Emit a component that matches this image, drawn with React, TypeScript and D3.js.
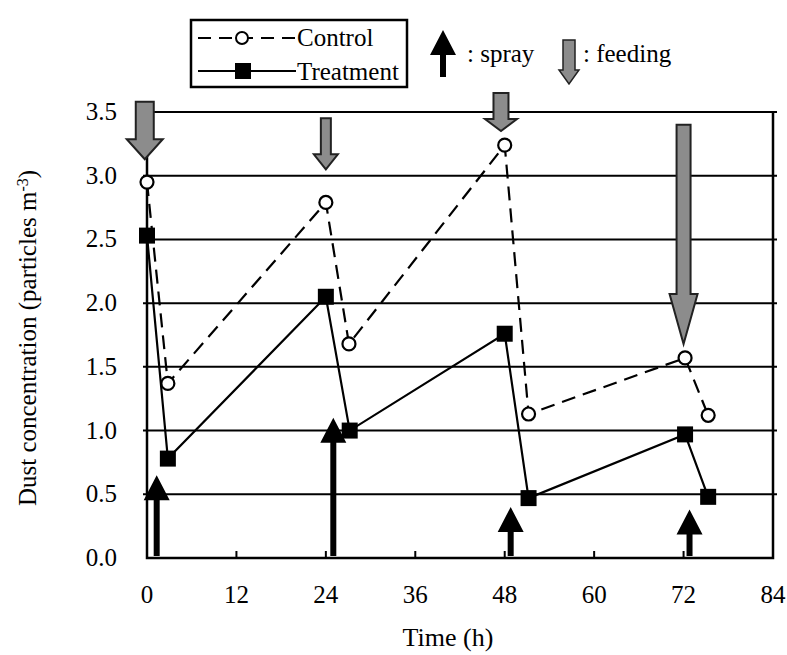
import React, { useEffect, useRef } from 'react';
import * as d3 from 'd3';

// time (h) and dust concentration for each series
const controlTime = [0, 2.8, 24, 27.1, 48, 51.2, 72.2, 75.3];
const controlValue = [2.95, 1.37, 2.79, 1.68, 3.24, 1.13, 1.57, 1.12];
const treatmentTime = [0, 2.8, 24, 27.2, 48, 51.2, 72.2, 75.3];
const treatmentValue = [2.53, 0.78, 2.05, 1.0, 1.76, 0.47, 0.97, 0.48];

// spray events (up arrows): time and tip value
const sprayTime = [1.3, 25, 48.8, 72.8];
const sprayTip = [0.65, 1.1, 0.4, 0.38];

// feeding events (down arrows): time, top value, tip value
const feedTime = [-0.3, 24, 47.5, 72];
const feedTop = [3.58, 3.45, 3.65, 3.4];
const feedTip = [3.13, 3.05, 3.35, 1.68];

const xTicks = [0, 12, 24, 36, 48, 60, 72, 84];
const yTicks = [0, 0.5, 1.0, 1.5, 2.0, 2.5, 3.0, 3.5];

// arrow drawing sizes (px): shaft width, head width, head height
const feedShaft = [18, 10, 15, 14];
const feedHeadW = [36, 24, 32, 28];
const feedHeadH = [20, 15, 12, 50];

const App = () => {
    const svgRef = useRef<SVGSVGElement>(null);
    const width = 787;
    const height = 655;
    const margin = { left: 147, right: 14, top: 112, bottom: 97 };
    const font = '"Liberation Serif", "Times New Roman", serif';
    const fs = 25;

    useEffect(() => {
        const svg = d3.select(svgRef.current);
        svg.selectAll('*').remove();

        const x = d3.scaleLinear().domain([0, 84]).range([margin.left, width - margin.right]);
        const y = d3.scaleLinear().domain([0, 3.5]).range([height - margin.bottom, margin.top]);

        // gridlines
        svg.append('g')
            .selectAll('line')
            .data(yTicks.filter(d => d > 0))
            .join('line')
            .attr('x1', x(0) - 4)
            .attr('x2', x(84) + 4)
            .attr('y1', d => y(d))
            .attr('y2', d => y(d))
            .attr('stroke', '#000')
            .attr('stroke-width', 2);

        // frame: left, bottom, right
        svg.append('path')
            .attr('d', `M${x(0)},${y(3.5)}V${y(0)}H${x(84)}V${y(3.5)}`)
            .attr('fill', 'none')
            .attr('stroke', '#000')
            .attr('stroke-width', 2.5);

        // x ticks (inward)
        svg.append('g')
            .selectAll('line')
            .data(xTicks.slice(1, -1))
            .join('line')
            .attr('x1', d => x(d))
            .attr('x2', d => x(d))
            .attr('y1', y(0))
            .attr('y2', y(0) - 7)
            .attr('stroke', '#000')
            .attr('stroke-width', 2);

        // tick labels
        svg.append('g')
            .selectAll('text')
            .data(xTicks)
            .join('text')
            .attr('x', d => x(d))
            .attr('y', y(0) + 45)
            .attr('text-anchor', 'middle')
            .attr('font-family', font)
            .attr('font-size', fs)
            .text(d => d);

        svg.append('g')
            .selectAll('text')
            .data(yTicks)
            .join('text')
            .attr('x', x(0) - 30)
            .attr('y', d => y(d) + 8)
            .attr('text-anchor', 'end')
            .attr('font-family', font)
            .attr('font-size', fs)
            .text(d => d3.format('.1f')(d));

        // axis titles
        svg.append('text')
            .attr('x', 448)
            .attr('y', height - 9)
            .attr('text-anchor', 'middle')
            .attr('font-family', font)
            .attr('font-size', 26)
            .text('Time (h)');

        const yt = svg.append('text')
            .attr('transform', `translate(36,338) rotate(-90)`)
            .attr('text-anchor', 'middle')
            .attr('font-family', font)
            .attr('font-size', 25);
        yt.append('tspan').text('Dust concentration (particles m');
        yt.append('tspan').attr('baseline-shift', 'super').attr('font-size', 16).text('-3');
        yt.append('tspan').text(')');

        // feeding arrows (grey, down)
        feedTime.forEach((t, i) => {
            const cx = x(t);
            const top = y(feedTop[i]);
            const tip = y(feedTip[i]);
            const sw = feedShaft[i] / 2;
            const hw = feedHeadW[i] / 2;
            const hb = tip - feedHeadH[i];
            svg.append('path')
                .attr('d', `M${cx - sw},${top}H${cx + sw}V${hb}H${cx + hw}L${cx},${tip}L${cx - hw},${hb}H${cx - sw}Z`)
                .attr('fill', '#8c8c8c')
                .attr('stroke', '#222')
                .attr('stroke-width', 2);
        });

        const ctrl = controlTime.map((t, i) => [t, controlValue[i]] as [number, number]);
        const trt = treatmentTime.map((t, i) => [t, treatmentValue[i]] as [number, number]);
        const line = d3.line<[number, number]>().x(d => x(d[0])).y(d => y(d[1]));

        // control line (dashed), treatment line (solid)
        svg.append('path')
            .attr('d', line(ctrl))
            .attr('fill', 'none')
            .attr('stroke', '#000')
            .attr('stroke-width', 2.2)
            .attr('stroke-dasharray', '14,8');

        svg.append('path')
            .attr('d', line(trt))
            .attr('fill', 'none')
            .attr('stroke', '#000')
            .attr('stroke-width', 2.2);

        // spray arrows (black, up)
        sprayTime.forEach((t, i) => {
            const cx = x(t);
            const base = y(0) - 2;
            const tip = y(sprayTip[i]);
            const hb = tip + 25;
            svg.append('path')
                .attr('d', `M${cx - 3},${base}V${hb}H${cx - 13}L${cx},${tip}L${cx + 13},${hb}H${cx + 3}V${base}Z`)
                .attr('fill', '#000');
        });

        svg.append('g')
            .selectAll('circle')
            .data(ctrl)
            .join('circle')
            .attr('cx', d => x(d[0]))
            .attr('cy', d => y(d[1]))
            .attr('r', 6.5)
            .attr('fill', '#fff')
            .attr('stroke', '#000')
            .attr('stroke-width', 2.2);

        svg.append('g')
            .selectAll('rect')
            .data(trt)
            .join('rect')
            .attr('x', d => x(d[0]) - 8)
            .attr('y', d => y(d[1]) - 8)
            .attr('width', 16)
            .attr('height', 16)
            .attr('fill', '#000');

        // legend
        const lg = svg.append('g');
        lg.append('rect')
            .attr('x', 191).attr('y', 20).attr('width', 216).attr('height', 67)
            .attr('fill', '#fff').attr('stroke', '#000').attr('stroke-width', 2.5);
        lg.append('line')
            .attr('x1', 198).attr('x2', 296).attr('y1', 38).attr('y2', 38)
            .attr('stroke', '#000').attr('stroke-width', 2).attr('stroke-dasharray', '13,8');
        lg.append('circle')
            .attr('cx', 242).attr('cy', 38).attr('r', 6)
            .attr('fill', '#fff').attr('stroke', '#000').attr('stroke-width', 2);
        lg.append('text')
            .attr('x', 297).attr('y', 46)
            .attr('font-family', font).attr('font-size', fs).text('Control');
        lg.append('line')
            .attr('x1', 198).attr('x2', 296).attr('y1', 71).attr('y2', 71)
            .attr('stroke', '#000').attr('stroke-width', 2);
        lg.append('rect')
            .attr('x', 235).attr('y', 63).attr('width', 16).attr('height', 16).attr('fill', '#000');
        lg.append('text')
            .attr('x', 297).attr('y', 80)
            .attr('font-family', font).attr('font-size', fs).text('Treatment');

        // spray / feeding keys
        lg.append('path')
            .attr('d', 'M440,77V55H430L443,30L456,55H446V77Z')
            .attr('fill', '#000');
        lg.append('text')
            .attr('x', 467).attr('y', 62)
            .attr('font-family', font).attr('font-size', fs).text(': spray');
        lg.append('path')
            .attr('d', 'M563,40H575V70H579L569,84L559,70H563Z')
            .attr('fill', '#8c8c8c').attr('stroke', '#222').attr('stroke-width', 1.5);
        lg.append('text')
            .attr('x', 583).attr('y', 62)
            .attr('font-family', font).attr('font-size', fs).text(': feeding');
    }, []);

    return (
        <svg
            ref={svgRef}
            width={width}
            height={height}
            style={{ position: 'absolute', left: 0, top: 0, background: '#fff' }}
        ></svg>
    );
};

export default App;
